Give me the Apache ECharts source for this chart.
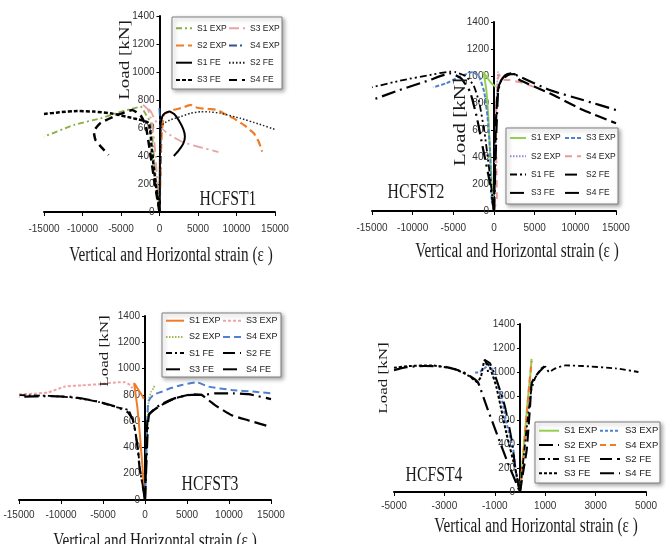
<!DOCTYPE html>
<html>
<head>
<meta charset="utf-8">
<script src="https://cdn.jsdelivr.net/npm/echarts@6/dist/echarts.min.js"></script>
<style>html,body{margin:0;padding:0;background:#fff}#c{width:666px;height:544px}</style>
</head>
<body>
<div id="c"></div>
<script>
// ---------- tick labels ----------
const xTicksWide = [-15000, -10000, -5000, 0, 5000, 10000, 15000];
const xTicksNarrow = [-5000, -3000, -1000, 1000, 3000, 5000];
const yTicks = [0, 200, 400, 600, 800, 1000, 1200, 1400];
const seriesNames = ['S1 EXP', 'S3 EXP', 'S2 EXP', 'S4 EXP', 'S1 FE', 'S2 FE', 'S3 FE', 'S4 FE'];
const panelTitles = ['HCFST1', 'HCFST2', 'HCFST3', 'HCFST4'];

// ---------- HCFST1 ----------
const p1S1exp = [[0,0],[-300,157],[-740,395],[-950,560],[-1100,633],[-1800,700],[-2470,755],[-3000,745],[-5060,716],[-7660,669],[-11130,621],[-15000,538]];
const p1S3exp = [[0,0],[-200,150],[-450,350],[-700,520],[-1000,640],[-1500,730],[-2300,773],[-1800,750],[-1200,725],[-560,655],[200,600],[1000,565],[1800,535],[3000,500],[4400,476],[6000,452],[7660,428]];
const p1S2exp = [[0,0],[100,200],[180,400],[280,550],[450,650],[600,700],[1200,715],[1860,730],[3000,745],[4030,765],[4600,750],[5320,741],[6500,735],[7490,729],[8500,700],[9650,669],[11000,620],[12250,562],[12900,500],[13330,431]];
const p1S4exp = [[0,0],[80,200],[150,400],[120,600],[30,700],[-20,760]];
const p1S1fe = [[0,0],[30,200],[60,400],[100,600],[350,680],[700,705],[1300,718],[1900,700],[2500,655],[3100,590],[3300,540],[3100,490],[2500,440],[1860,400]];
const p1S2fe = [[0,0],[50,200],[100,400],[200,600],[560,633],[1500,660],[2730,681],[4000,705],[5320,716],[6500,715],[7920,705],[10520,669],[12800,630],[15000,590]];
const p1S3fe = [[0,0],[-600,250],[-1000,450],[-1400,635],[-3340,669],[-6360,705],[-8500,717],[-10690,721],[-13000,712],[-15000,700]];
const p1S4fe = [[0,0],[-600,200],[-1200,420],[-1800,620],[-2470,690],[-3550,729],[-4500,712],[-5500,693],[-7660,636],[-8530,574],[-8310,514],[-7500,460],[-6620,407]];

// ---------- HCFST2 ----------
const p2S1exp = [[0,0],[-280,205],[-500,450],[-700,699],[-950,900],[-1300,1030],[-800,985],[-300,945],[200,920]];
const p2S3exp = [[0,0],[-280,80],[-490,452],[-800,700],[-1200,880],[-1800,990],[-2580,1030],[-4220,995],[-5870,946],[-7500,916]];
const p2S2exp = [[0,0],[100,300],[200,600],[300,800],[400,950],[500,1030],[650,1000]];
const p2S4exp = [[0,0],[350,100],[300,300],[250,550],[300,800],[450,950],[600,1010],[1000,975],[1930,970],[3810,946],[4800,921]];
const p2S1fe = [[0,0],[-530,279],[-1150,575],[-1800,800],[-2500,930],[-3500,1000],[-4800,1030],[-5450,1032],[-7900,1007],[-11200,970],[-15000,916]];
const p2S2fe = [[0,0],[100,300],[200,600],[400,850],[600,930],[1000,975],[1800,1010],[2500,1015],[3160,970],[6850,872],[10950,748],[15000,650]];
const p2S3fe = [[0,0],[-490,205],[-1320,452],[-2130,699],[-2950,884],[-4000,980],[-5000,1015],[-5450,1020],[-7900,970],[-11600,896],[-15000,822]];
const p2S4fe = [[0,0],[150,300],[300,600],[500,880],[800,960],[1400,1007],[2200,1020],[3160,995],[6850,896],[10950,822],[15000,748]];

// ---------- HCFST3 ----------
const p3S1exp = [[0,0],[-150,100],[-300,250],[-600,490],[-900,700],[-1300,890],[-1100,870],[-700,830],[-300,790],[-150,770]];
const p3S3exp = [[-15000,804],[-13000,810],[-11500,819],[-9520,863],[-7500,872],[-5560,881],[-3170,896],[-2380,896],[-1790,875],[-1500,850]];
const p3S2exp = [[0,0],[100,200],[200,400],[300,600],[450,760],[700,820],[1000,850],[1200,880]];
const p3S4exp = [[0,0],[100,200],[200,450],[300,650],[400,750],[1000,800],[1980,824],[3000,850],[4370,875],[6150,896],[7540,863],[10320,837],[13100,824],[15000,811]];
const p3S1fe = [[0,0],[-300,120],[-595,222],[-790,363],[-1100,500],[-1390,594],[-1980,683],[-3570,709],[-5560,747],[-8330,778],[-11500,793],[-15000,798]];
const p3S2fe = [[0,0],[100,250],[200,500],[400,645],[1590,709],[3570,773],[5560,804],[6750,798],[8330,722],[10320,645],[12300,606],[15000,555]];
const p3S3fe = [[0,0],[-350,140],[-650,250],[-850,380],[-1150,520],[-1450,610],[-2100,670],[-3700,715],[-5700,750],[-8500,783],[-11500,790],[-15000,785]];
const p3S4fe = [[0,0],[150,250],[300,500],[500,650],[1700,720],[3600,775],[5500,800],[7000,800],[8330,811],[10500,811],[12300,805],[15000,768]];

// ---------- HCFST4 ----------
const p4S1exp = [[0,0],[100,250],[200,500],[300,750],[400,950],[460,1110]];
const p4S3exp = [[0,0],[-130,100],[-265,350],[-530,570],[-800,850],[-1060,990],[-1190,1058],[-1320,1045],[-1590,1003],[-1850,990]];
const p4S2exp = [[0,0],[-150,150],[-330,433],[-595,711],[-925,933],[-1190,1072],[-1390,1100],[-1300,1050],[-1250,960]];
const p4S4exp = [[0,0],[100,220],[200,480],[300,720],[370,900],[420,1000],[460,1090]];
const p4S1fe = [[0,0],[150,300],[300,600],[450,850],[600,950],[850,1030],[1000,1045],[1150,1000],[1400,1030],[1800,1055],[2500,1050],[3800,1030],[4700,1000]];
const p4S2fe = [[0,0],[150,200],[265,350],[397,711],[463,906],[600,960],[800,1010],[1000,1055]];
const p4S3fe = [[-5000,1035],[-4400,1050],[-3500,1055],[-2600,1025],[-2000,965],[-1700,915],[-1550,960],[-1400,1100],[-1200,1040],[-940,877],[-540,489],[-146,156],[0,0]];
const p4S4fe = [[-5000,1015],[-4500,1040],[-3800,1050],[-3000,1045],[-2300,1005],[-1800,940],[-1650,906],[-1320,711],[-925,489],[-529,267],[0,0]];

// ---------- styling (not data) ----------
const FNUM = '"Liberation Sans",Arial,sans-serif';
const FSERIF = '"Liberation Serif","DejaVu Serif",serif';
const LDD = [14,5,2,5];
const styles = [
  { 'S1 EXP':['#8AAE46',[6,3,2,3],1.8], 'S3 EXP':['#E6A3A3',[10,4,2,4],1.8], 'S2 EXP':['#F07C28',[8,4],2.2], 'S4 EXP':['#2E5597',[8,3,2,3],1.8],
    'S1 FE':['#000','solid',2], 'S2 FE':['#222',[1.5,2],1.5], 'S3 FE':['#000',[4,2],2.5], 'S4 FE':['#000',[8,5],2.5] },
  { 'S1 EXP':['#92D050','solid',2], 'S3 EXP':['#4F81D0',[4,2],2], 'S2 EXP':['#9B87D2',[1.5,1.5],1.5], 'S4 EXP':['#E79A9A',[7,5],2],
    'S1 FE':['#000',[7,3,2,3,2,3],1.8], 'S2 FE':['#000',[12,5],2.2], 'S3 FE':['#000',LDD,2.2], 'S4 FE':['#000',LDD,2.2] },
  { 'S1 EXP':['#F07C28','solid',2], 'S3 EXP':['#EFA5A5',[3,2],2], 'S2 EXP':['#9BBB59',[1.5,1.5],1.8], 'S4 EXP':['#4F81D0',[7,4],2],
    'S1 FE':['#000',[6,3,2,3],1.8], 'S2 FE':['#000',[12,5],2.2], 'S3 FE':['#000',LDD,2.2], 'S4 FE':['#000',LDD,2.2] },
  { 'S1 EXP':['#92D050','solid',2], 'S3 EXP':['#4F81D0',[3,2],2], 'S2 EXP':['#000',LDD,2], 'S4 EXP':['#F07C28',[6,4],2.2],
    'S1 FE':['#000',[6,3,2,3],1.8], 'S2 FE':['#000',[12,5],2.2], 'S3 FE':['#000',[3,2],2], 'S4 FE':['#000',LDD,2.2] }
];
const panelData = [
  {'S1 EXP':p1S1exp,'S3 EXP':p1S3exp,'S2 EXP':p1S2exp,'S4 EXP':p1S4exp,'S1 FE':p1S1fe,'S2 FE':p1S2fe,'S3 FE':p1S3fe,'S4 FE':p1S4fe},
  {'S1 EXP':p2S1exp,'S3 EXP':p2S3exp,'S2 EXP':p2S2exp,'S4 EXP':p2S4exp,'S1 FE':p2S1fe,'S2 FE':p2S2fe,'S3 FE':p2S3fe,'S4 FE':p2S4fe},
  {'S1 EXP':p3S1exp,'S3 EXP':p3S3exp,'S2 EXP':p3S2exp,'S4 EXP':p3S4exp,'S1 FE':p3S1fe,'S2 FE':p3S2fe,'S3 FE':p3S3fe,'S4 FE':p3S4fe},
  {'S1 EXP':p4S1exp,'S3 EXP':p4S3exp,'S2 EXP':p4S2exp,'S4 EXP':p4S4exp,'S1 FE':p4S1fe,'S2 FE':p4S2fe,'S3 FE':p4S3fe,'S4 FE':p4S4fe}
];
const layout = [
  { grid:{left:44, top:16, width:231, height:196}, xmin:-15000, xmax:15000, xticks:xTicksWide, lblMargin:12,
    frame:[172,17,110,72], legL:175, legR:228, legTop:22.3, iw:16, gap:5.2, fs:8.5,
    load:[125,60,19], title:[228,199], xtitle:[171,256] },
  { grid:{left:372, top:22, width:244, height:189}, xmin:-15000, xmax:15000, xticks:xTicksWide, lblMargin:12,
    frame:[506,128,112,76], legL:509, legR:564, legTop:132, iw:16, gap:6.3, fs:8.5,
    load:[461,122,21], title:[416,192], xtitle:[517,252] },
  { grid:{left:19, top:316, width:252, height:184}, xmin:-15000, xmax:15000, xticks:xTicksWide, lblMargin:10,
    frame:[162,313,119,64], legL:165, legR:222, legTop:314.7, iw:18, gap:4.2, fs:9,
    load:[105,351,17], title:[210,484], xtitle:[155,542] },
  { grid:{left:394, top:324, width:252, height:168}, xmin:-5000, xmax:5000, xticks:xTicksNarrow, lblMargin:9,
    frame:[535,422,125,61], legL:538, legR:599, legTop:424.7, iw:20, gap:2.2, fs:9.5,
    load:[384,378,17], title:[434,475], xtitle:[536,527] }
];

const grid = [], xAxis = [], yAxis = [], series = [], legend = [], graphic = [];
const plain = (v) => String(v);
layout.forEach((L, i) => {
  grid.push(L.grid);
  xAxis.push({
    type:'value', gridIndex:i, min:L.xmin, max:L.xmax, interval:(i === 3 ? 1000 : 5000),
    axisLine:{onZero:false, lineStyle:{color:'#000', width:2}},
    axisTick:{show:true, length:4, lineStyle:{color:'#000', width:1}, customValues:L.xticks},
    axisLabel:{customValues:L.xticks, formatter:plain, fontFamily:FNUM, fontSize:10, color:'#333', margin:L.lblMargin},
    splitLine:{show:false}
  });
  // place the vertical axis where strain = 0 (offset from the grid's left edge)
  const zeroOffset = L.grid.width * (0 - L.xmin) / (L.xmax - L.xmin);
  yAxis.push({
    type:'value', gridIndex:i, min:0, max:1400, interval:200, position:'left', offset:-zeroOffset,
    axisLine:{onZero:false, lineStyle:{color:'#000', width:2}},
    axisTick:{show:true, length:3, lineStyle:{color:'#000', width:1}, customValues:yTicks},
    axisLabel:{customValues:yTicks, formatter:plain, fontFamily:FNUM, fontSize:10, color:'#333', margin:5},
    splitLine:{show:false}
  });
  seriesNames.forEach(n => {
    const st = styles[i][n];
    series.push({
      type:'line', name:n + '#' + (i + 1), xAxisIndex:i, yAxisIndex:i,
      data:panelData[i][n], symbol:'none', showSymbol:false, smooth:0.15, clip:true, animation:false,
      lineStyle:{color:st[0], type:st[1], width:st[2]}, itemStyle:{color:st[0]}
    });
  });
  const colL = [0, 2, 4, 6].map(k => seriesNames[k] + '#' + (i + 1));
  const colR = [1, 3, 5, 7].map(k => seriesNames[k] + '#' + (i + 1));
  [[colL, L.legL], [colR, L.legR]].forEach(([names, x]) => {
    legend.push({
      orient:'vertical', left:x, top:L.legTop, padding:0, itemWidth:L.iw, itemHeight:12, itemGap:L.gap,
      data:names, selectedMode:false, z:20,
      itemStyle:{opacity:0, borderWidth:0},
      formatter:(n) => n.split('#')[0],
      textStyle:{fontFamily:FNUM, fontSize:L.fs, color:'#222', lineHeight:12}
    });
  });
  const f = L.frame;
  graphic.push({
    type:'rect', z:10, shape:{x:f[0], y:f[1], width:f[2], height:f[3]},
    style:{fill:'#fff', stroke:'#7f7f7f', lineWidth:1, shadowBlur:4, shadowOffsetX:2, shadowOffsetY:2, shadowColor:'rgba(0,0,0,0.35)'}
  });
  graphic.push({
    type:'text', z:10, x:L.load[0], y:L.load[1], rotation:Math.PI / 2, scaleY:0.75,
    style:{text:'Load [kN]', font:L.load[2] + 'px ' + FSERIF, fill:'#1a1a1a', align:'center', verticalAlign:'middle'}
  });
  graphic.push({
    type:'text', z:10, x:L.title[0], y:L.title[1], scaleX:0.75,
    style:{text:panelTitles[i], font:'21px ' + FSERIF, fill:'#1a1a1a', align:'center', verticalAlign:'middle'}
  });
  graphic.push({
    type:'text', z:10, x:L.xtitle[0], y:L.xtitle[1], scaleX:0.76,
    style:{text:'Vertical and Horizontal strain (\u03b5 )', font:'20px ' + FSERIF, fill:'#1a1a1a', align:'center', verticalAlign:'middle'}
  });
});

const chart = echarts.init(document.getElementById('c'), null, {renderer:'canvas'});
chart.setOption({ backgroundColor:'#fff', animation:false, grid, xAxis, yAxis, series, legend, graphic });
</script>
</body>
</html>
